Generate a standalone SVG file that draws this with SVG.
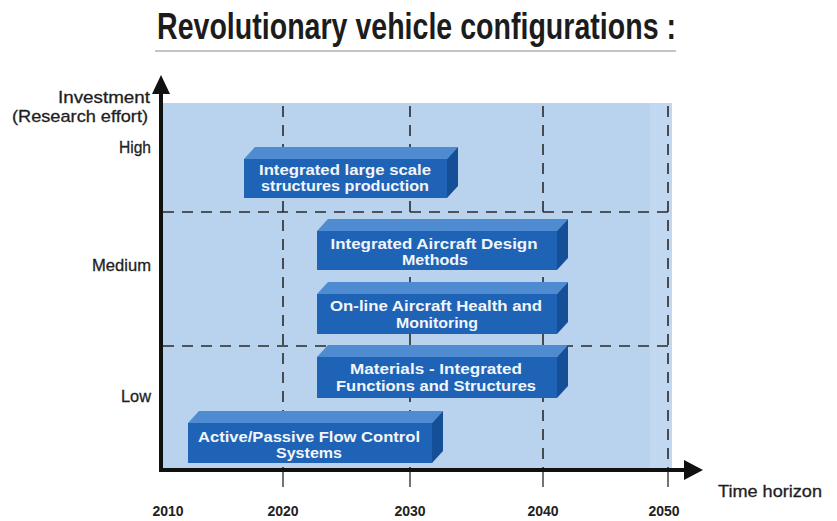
<svg xmlns="http://www.w3.org/2000/svg" width="837" height="521" viewBox="0 0 837 521">
<style>
.lbl{font-family:"Liberation Sans",Arial,sans-serif;font-size:17px;fill:#1e1e1e;stroke:#1e1e1e;stroke-width:0.3}
.yr{font-family:"Liberation Sans",Arial,sans-serif;font-size:14px;font-weight:bold;fill:#222;text-anchor:middle}
.bt{font-family:"Liberation Sans",Arial,sans-serif;font-size:15px;font-weight:bold;fill:#f2f6fb;text-anchor:middle}
.front{fill:#1f63b6}
.top{fill:#4f8bd0}
.side{fill:#154f98}
.dash{stroke:#2a2a2a;stroke-width:1.6;stroke-dasharray:11 8;fill:none}
</style>
<rect width="837" height="521" fill="#ffffff"/>
<text x="157" y="39" font-family="'Liberation Sans',Arial,sans-serif" font-size="36" font-weight="bold" fill="#1c1c1c" textLength="519" lengthAdjust="spacingAndGlyphs">Revolutionary vehicle configurations :</text>
<line x1="155" y1="51" x2="676" y2="51" stroke="#b0b0b0" stroke-width="1.5"/>
<rect x="163" y="103" width="509" height="365" fill="#b9d3ee"/>
<rect x="650" y="103" width="22" height="365" fill="#c1d8f0"/>
<g id="grid">
<line class="dash" x1="283" y1="106" x2="283" y2="468"/>
<line class="dash" x1="410" y1="106" x2="410" y2="468"/>
<line class="dash" x1="543" y1="106" x2="543" y2="468"/>
<line class="dash" x1="668" y1="106" x2="668" y2="468"/>
<line class="dash" x1="163" y1="212" x2="672" y2="212"/>
<line class="dash" x1="163" y1="346" x2="672" y2="346"/>
</g>
<g id="bar-structures">
<polygon class="top" points="244,159 255,147 458,147 447,159"/>
<polygon class="side" points="447,159 458,147 458,186 447,198"/>
<rect class="front" x="244" y="159" width="203" height="39"/>
<text class="bt" x="345" y="175" textLength="172" lengthAdjust="spacingAndGlyphs">Integrated large scale</text>
<text class="bt" x="345" y="191" textLength="168" lengthAdjust="spacingAndGlyphs">structures production</text>
</g>
<g id="bar-design">
<polygon class="top" points="317,231 328,219 568,219 557,231"/>
<polygon class="side" points="557,231 568,219 568,258 557,270"/>
<rect class="front" x="317" y="231" width="240" height="39"/>
<text class="bt" x="434" y="249" textLength="207" lengthAdjust="spacingAndGlyphs">Integrated Aircraft Design</text>
<text class="bt" x="435" y="265" textLength="66" lengthAdjust="spacingAndGlyphs">Methods</text>
</g>
<g id="bar-health">
<polygon class="top" points="317,294 328,282 568,282 557,294"/>
<polygon class="side" points="557,294 568,282 568,322 557,334"/>
<rect class="front" x="317" y="294" width="240" height="40"/>
<text class="bt" x="436" y="311" textLength="212" lengthAdjust="spacingAndGlyphs">On-line Aircraft Health and</text>
<text class="bt" x="437" y="328" textLength="82" lengthAdjust="spacingAndGlyphs">Monitoring</text>
</g>
<g id="bar-materials">
<polygon class="top" points="317,357 328,345 568,345 557,357"/>
<polygon class="side" points="557,357 568,345 568,386 557,398"/>
<rect class="front" x="317" y="357" width="240" height="41"/>
<text class="bt" x="436" y="374" textLength="172" lengthAdjust="spacingAndGlyphs">Materials - Integrated</text>
<text class="bt" x="436" y="391" textLength="200" lengthAdjust="spacingAndGlyphs">Functions and Structures</text>
</g>
<g id="bar-flow">
<polygon class="top" points="188,423 199,411 443,411 432,423"/>
<polygon class="side" points="432,423 443,411 443,451 432,463"/>
<rect class="front" x="188" y="423" width="244" height="40"/>
<text class="bt" x="309" y="442" textLength="222" lengthAdjust="spacingAndGlyphs">Active/Passive Flow Control</text>
<text class="bt" x="309" y="458" textLength="66" lengthAdjust="spacingAndGlyphs">Systems</text>
</g>
<g id="axes">
<line x1="161" y1="472" x2="161" y2="90" stroke="#111" stroke-width="4"/>
<polygon points="161,75 152,94 170,94" fill="#111"/>
<line x1="159" y1="470" x2="688" y2="470" stroke="#111" stroke-width="4"/>
<polygon points="703,470 684,460 684,480" fill="#111"/>
<g stroke="#444" stroke-width="1.5">
<line x1="283" y1="472" x2="283" y2="487"/>
<line x1="410" y1="472" x2="410" y2="487"/>
<line x1="543" y1="472" x2="543" y2="487"/>
<line x1="668" y1="472" x2="668" y2="487"/>
</g>
</g>
<g id="labels">
<text class="lbl" x="150" y="103" text-anchor="end" textLength="92" lengthAdjust="spacingAndGlyphs">Investment</text>
<text class="lbl" x="148" y="122" text-anchor="end" textLength="136" lengthAdjust="spacingAndGlyphs">(Research effort)</text>
<text class="lbl" x="151" y="153" text-anchor="end" textLength="32" lengthAdjust="spacingAndGlyphs">High</text>
<text class="lbl" x="151" y="271" text-anchor="end" textLength="59" lengthAdjust="spacingAndGlyphs">Medium</text>
<text class="lbl" x="151" y="402" text-anchor="end" textLength="30" lengthAdjust="spacingAndGlyphs">Low</text>
<text class="lbl" x="718" y="497" textLength="104" lengthAdjust="spacingAndGlyphs">Time horizon</text>
<text class="yr" x="168" y="516">2010</text>
<text class="yr" x="283" y="516">2020</text>
<text class="yr" x="410" y="516">2030</text>
<text class="yr" x="543" y="516">2040</text>
<text class="yr" x="664" y="516">2050</text>
</g>
</svg>
